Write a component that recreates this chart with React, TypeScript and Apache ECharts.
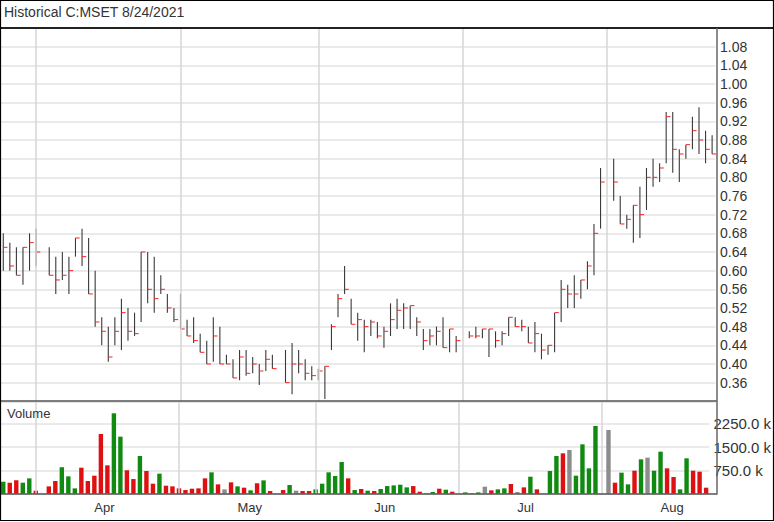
import React, { useEffect, useRef } from "react";
import * as echarts from "echarts";

const dates = [
  "2021-03-25","2021-03-26","2021-03-29","2021-03-30","2021-03-31",
  "2021-04-01","2021-04-02","2021-04-05","2021-04-06","2021-04-07","2021-04-08","2021-04-09",
  "2021-04-12","2021-04-13","2021-04-14","2021-04-15","2021-04-16","2021-04-19","2021-04-20",
  "2021-04-21","2021-04-22","2021-04-23","2021-04-26","2021-04-27","2021-04-28","2021-04-29","2021-04-30",
  "2021-05-03","2021-05-04","2021-05-05","2021-05-06","2021-05-07","2021-05-10","2021-05-11",
  "2021-05-12","2021-05-13","2021-05-14","2021-05-17","2021-05-18","2021-05-19","2021-05-20",
  "2021-05-21","2021-05-24","2021-05-25","2021-05-26","2021-05-27","2021-05-28","2021-05-31",
  "2021-06-01","2021-06-02","2021-06-03","2021-06-04","2021-06-07","2021-06-08","2021-06-09",
  "2021-06-10","2021-06-11","2021-06-14","2021-06-15","2021-06-16","2021-06-17","2021-06-18",
  "2021-06-21","2021-06-22","2021-06-23","2021-06-24","2021-06-25","2021-06-28","2021-06-29","2021-06-30",
  "2021-07-01","2021-07-02","2021-07-05","2021-07-06","2021-07-07","2021-07-08","2021-07-09",
  "2021-07-12","2021-07-13","2021-07-14","2021-07-15","2021-07-16","2021-07-19","2021-07-20",
  "2021-07-21","2021-07-22","2021-07-23","2021-07-26","2021-07-27","2021-07-28","2021-07-29","2021-07-30",
  "2021-08-02","2021-08-03","2021-08-04","2021-08-05","2021-08-06","2021-08-09","2021-08-10",
  "2021-08-11","2021-08-12","2021-08-13","2021-08-16","2021-08-17","2021-08-18","2021-08-19",
  "2021-08-20","2021-08-23","2021-08-24",
];

const high = [
  0.68,0.66,0.65,0.65,0.68,0.69,null,0.65,0.63,0.64,
  0.63,0.67,0.69,0.67,0.60,0.50,0.48,0.50,0.54,0.52,
  0.51,0.64,0.64,0.63,0.59,0.55,0.52,0.55,0.495,0.50,
  0.465,0.45,0.50,0.48,0.42,0.41,0.43,0.43,0.415,0.40,
  0.43,0.42,null,0.43,0.445,0.43,0.41,0.395,0.39,0.395,
  0.485,0.55,0.61,0.54,0.51,0.495,0.495,0.49,0.48,0.53,
  0.54,0.53,0.525,0.50,0.475,0.475,0.48,0.50,0.475,0.46,
  null,0.47,0.48,0.475,0.475,0.47,0.47,0.50,0.50,0.495,
  0.48,0.49,0.465,0.44,0.51,0.58,0.57,0.59,0.58,0.62,
  0.70,0.82,null,0.84,0.76,0.72,0.74,0.78,0.82,0.84,
  0.83,0.94,0.94,0.86,0.87,0.93,0.95,0.90,0.89,
];

const low = [
  0.60,0.60,0.59,0.57,0.60,0.61,null,0.59,0.55,0.58,
  0.55,0.63,0.61,0.55,0.48,0.44,0.405,0.44,0.43,0.45,
  0.46,0.49,0.53,0.51,0.55,0.51,0.49,0.475,0.46,0.445,
  0.425,0.40,0.405,0.40,0.40,0.37,0.365,0.375,0.38,0.355,
  0.385,0.39,null,0.36,0.335,0.38,0.365,0.365,0.365,0.325,
  0.43,0.50,0.55,0.485,0.45,0.425,0.46,0.455,0.435,0.46,
  0.475,0.475,0.475,0.46,0.43,0.44,0.44,0.435,0.425,0.425,
  null,0.455,0.455,0.455,0.415,0.435,0.44,0.46,0.48,0.47,
  0.445,0.425,0.41,0.42,0.425,0.49,0.52,0.52,0.54,0.56,
  0.59,0.69,null,0.75,0.70,0.69,0.66,0.67,0.73,0.78,
  0.79,0.83,0.81,0.79,0.84,0.86,0.85,0.83,0.85,
];

const close = [
  0.65,0.61,0.59,0.65,0.66,0.64,null,0.59,0.58,0.59,
  0.60,0.67,0.63,0.55,0.49,0.47,0.415,0.47,0.51,0.47,
  0.465,0.64,0.56,0.54,0.56,0.52,0.495,0.475,0.46,0.45,
  0.425,0.40,0.46,0.40,0.40,0.37,0.415,0.38,0.40,0.385,
  0.41,0.39,null,0.36,0.40,0.40,0.38,0.375,0.385,0.395,
  0.48,0.54,0.56,0.485,0.495,0.48,0.49,0.46,0.47,0.495,
  0.515,0.52,0.525,0.49,0.45,0.46,0.47,0.435,0.475,0.45,
  null,0.46,0.46,0.475,0.475,0.45,0.465,0.50,0.48,0.48,
  0.445,0.465,0.43,0.44,0.51,0.56,0.55,0.55,0.58,0.61,
  0.68,0.79,null,0.79,0.70,0.71,0.74,0.72,0.80,0.80,
  0.82,0.93,0.86,0.85,0.87,0.90,0.88,0.86,0.85,
];

// volume in thousands
const volumeK = [
  387,355,430,355,495,97,null,237,409,850,
  560,172,839,409,581,1926,915,2593,1840,753,
  473,1216,732,323,646,258,237,172,118,161,
  172,495,689,301,140,366,237,194,108,334,
  430,86,null,118,280,97,86,86,140,323,
  689,570,1022,495,118,151,97,86,151,247,
  269,290,204,247,65,11,54,161,129,65,
  null,43,22,43,226,108,140,172,312,54,
  204,549,140,0,732,1216,1302,1410,581,1592,
  818,2184,null,2055,355,678,301,742,1108,1162,
  742,1356,818,538,140,1141,742,710,194,
];

const monthGridDates = ["2021-04-01", "2021-05-03", "2021-06-01", "2021-07-01", "2021-08-02"];
const monthLabelDates = ["2021-04-14", "2021-05-14", "2021-06-14", "2021-07-14", "2021-08-13"];
const monthLabels = ["Apr", "May", "Jun", "Jul", "Aug"];

const titleText = "Historical C:MSET 8/24/2021";
const volumeTitle = "Volume";

const FONT = "'Liberation Sans', Arial, sans-serif";
const UP = "#118a11";
const DOWN = "#dd1111";
const FLAT = "#8c8c8c";

export default function App() {
  const ref = useRef<HTMLDivElement>(null);

  useEffect(() => {
    document.body.style.margin = "0";
    const chart = echarts.init(ref.current as HTMLDivElement, null, { renderer: "svg" });

    const dirs = close.map((c, i) => {
      if (c == null) return 0;
      let j = i - 1;
      while (j >= 0 && close[j] == null) j--;
      if (j < 0) return 1;
      const p = close[j] as number;
      return c > p ? 1 : c < p ? -1 : 0;
    });

    const priceData: any[] = [];
    dates.forEach((d, i) => {
      if (high[i] != null) priceData.push([i, high[i], low[i], close[i]]);
    });

    const volData = volumeK.map((v, i) =>
      v == null
        ? "-"
        : { value: v, itemStyle: { color: dirs[i] > 0 ? UP : dirs[i] < 0 ? DOWN : FLAT } }
    );

    const gridLeft = 0;
    const gridWidth = 715.4;

    const option: any = {
      animation: false,
      backgroundColor: "#ffffff",
      textStyle: { fontFamily: FONT },
      grid: [
        { left: gridLeft, top: 28, width: gridWidth, height: 373.3 },
        { left: gridLeft, top: 401.3, width: gridWidth, height: 92.4 },
      ],
      xAxis: [
        {
          type: "category",
          gridIndex: 0,
          data: dates,
          boundaryGap: true,
          axisLine: { show: false },
          axisTick: { show: false },
          axisLabel: { show: false },
          splitLine: { show: false },
        },
        {
          type: "category",
          gridIndex: 1,
          data: dates,
          boundaryGap: true,
          axisLine: { show: false },
          axisTick: { show: false },
          splitLine: { show: false },
          axisLabel: {
            show: true,
            interval: (index: number, value: string) => monthLabelDates.indexOf(value) >= 0,
            formatter: (value: string) => {
              const k = monthLabelDates.indexOf(value);
              return k >= 0 ? monthLabels[k] : "";
            },
            align: "left",
            margin: 7,
            color: "#333",
            fontSize: 13,
            fontFamily: FONT,
          },
        },
      ],
      yAxis: [
        {
          type: "value",
          gridIndex: 0,
          position: "right",
          offset: 1.6,
          min: 0.32,
          max: 1.12,
          interval: 0.04,
          axisLine: { show: false },
          axisTick: { show: false },
          axisLabel: {
            margin: 3,
            color: "#333",
            fontSize: 14,
            fontFamily: FONT,
            formatter: (v: number) => (v < 0.35 || v > 1.09 ? "" : v.toFixed(2)),
          },
          splitLine: { show: true, lineStyle: { color: "#e3e3e3", width: 1.5 } },
        },
        {
          type: "value",
          gridIndex: 1,
          position: "right",
          offset: 1.6,
          min: 0,
          max: 2980,
          interval: 750,
          axisLine: { show: false },
          axisTick: { show: false },
          axisLabel: {
            margin: 2.5,
            color: "#333",
            fontSize: 15,
            fontFamily: FONT,
            showMaxLabel: false,
            formatter: (v: number) => (v <= 0 || v > 2900 ? "" : v.toFixed(1) + " k"),
          },
          splitLine: { show: true, lineStyle: { color: "#e3e3e3", width: 1.5 } },
        },
      ],
      series: [
        {
          type: "line",
          xAxisIndex: 0,
          yAxisIndex: 0,
          data: dates.map(() => "-"),
          silent: true,
          z: 1,
          markLine: {
            silent: true,
            symbol: ["none", "none"],
            label: { show: false },
            lineStyle: { color: "#d6d6d6", width: 1.5, type: "solid" },
            data: monthGridDates.map((d) => ({ xAxis: d })),
          },
        },
        {
          type: "line",
          xAxisIndex: 1,
          yAxisIndex: 1,
          data: dates.map(() => "-"),
          silent: true,
          z: 1,
          markLine: {
            silent: true,
            symbol: ["none", "none"],
            label: { show: false },
            lineStyle: { color: "#d6d6d6", width: 1.5, type: "solid" },
            data: monthGridDates.map((d) => ({ xAxis: d })),
          },
        },
        {
          type: "custom",
          xAxisIndex: 0,
          yAxisIndex: 0,
          z: 3,
          encode: { x: 0, y: [1, 2, 3] },
          data: priceData,
          renderItem: (params: any, api: any) => {
            const i = api.value(0);
            const pH = api.coord([i, api.value(1)]);
            const pL = api.coord([i, api.value(2)]);
            const pC = api.coord([i, api.value(3)]);
            return {
              type: "group",
              children: [
                {
                  type: "line",
                  shape: { x1: pH[0], y1: pH[1], x2: pL[0], y2: pL[1] },
                  style: { stroke: "#3a3a3a", lineWidth: 1.1 },
                },
                {
                  type: "line",
                  shape: { x1: pC[0], y1: pC[1], x2: pC[0] + 4.2, y2: pC[1] },
                  style: { stroke: "#ff2020", lineWidth: 1 },
                },
              ],
            };
          },
        },
        {
          type: "bar",
          xAxisIndex: 1,
          yAxisIndex: 1,
          z: 3,
          barWidth: 4.4,
          data: volData,
        },
      ],
      graphic: [
        {
          type: "text",
          left: 4,
          top: 5,
          z: 100,
          style: { text: titleText, fill: "#333", font: `14px ${FONT}` },
        },
        {
          type: "line",
          z: 100,
          shape: { x1: 0, y1: 28, x2: 774, y2: 28 },
          style: { stroke: "#222", lineWidth: 2 },
        },
        {
          type: "text",
          left: 7,
          top: 407,
          z: 100,
          style: { text: volumeTitle, fill: "#333", font: `13px ${FONT}` },
        },
        {
          type: "line",
          z: 100,
          shape: { x1: 0, y1: 401, x2: 717, y2: 401 },
          style: { stroke: "#555", lineWidth: 1.5 },
        },
        {
          type: "line",
          z: 100,
          shape: { x1: 0, y1: 494, x2: 717, y2: 494 },
          style: { stroke: "#555", lineWidth: 1.5 },
        },
        {
          type: "line",
          z: 100,
          shape: { x1: 717, y1: 28, x2: 717, y2: 494.5 },
          style: { stroke: "#666", lineWidth: 1.5 },
        },
        {
          type: "rect",
          z: 101,
          shape: { x: 0.5, y: 0.5, width: 773, height: 520 },
          style: { fill: "none", stroke: "#000", lineWidth: 1.2 },
        },
      ],
    };

    chart.setOption(option);
    return () => chart.dispose();
  }, []);

  return <div ref={ref} style={{ width: 774, height: 522 }} />;
}
